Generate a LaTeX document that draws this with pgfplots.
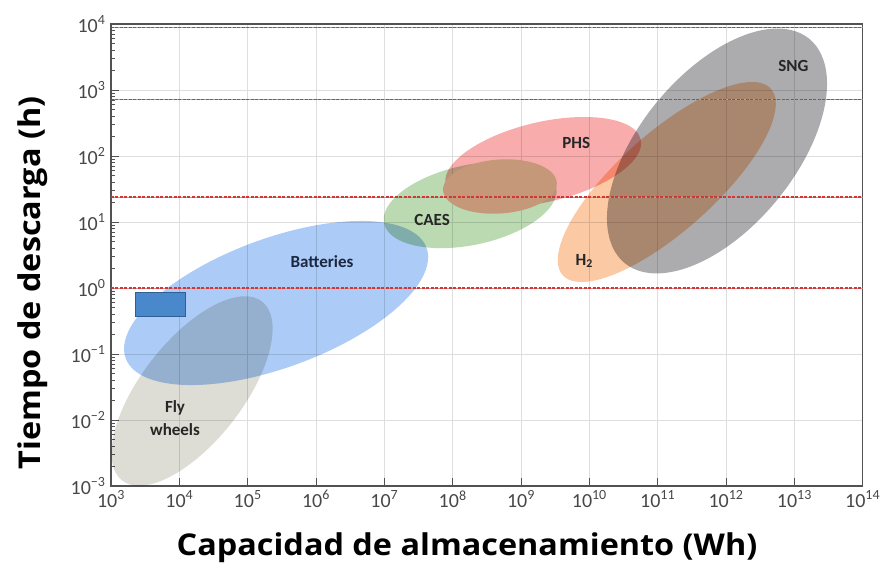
\documentclass[border=0pt]{standalone}
\usepackage{pgfplots}
\pgfplotsset{compat=1.18}
\usepackage{fontspec}
\setmainfont{Carlito}
\newfontfamily\titlefont[FakeStretch=1.08]{Open Sans}
\definecolor{cBat}{RGB}{172,203,246}
\definecolor{cFly}{RGB}{221,221,214}
\definecolor{cCaes}{RGB}{187,218,178}
\definecolor{cPhs}{RGB}{249,172,172}
\definecolor{cBrown}{RGB}{198,152,122}
\definecolor{cHtwo}{RGB}{251,201,163}
\definecolor{cSng}{RGB}{172,172,174}
\definecolor{cRect}{RGB}{74,136,204}
\definecolor{cRectEdge}{RGB}{47,95,149}
\definecolor{cRed}{RGB}{210,55,55}
\definecolor{cRedLine}{RGB}{205,150,150}
\newcommand{\tp}[1]{10\textsuperscript{#1}}
\pgfplotsset{blob/.style={draw=none, smooth cycle, tension=0.632},
  refline/.style={draw=cRed, line width=1.4pt, dash pattern=on 3pt off 1.5pt}}
\begin{document}
\begin{tikzpicture}
\path[use as bounding box] (-111pt,-84pt) rectangle (776pt,486pt);
\begin{axis}[
  scale only axis, width=751.7pt, height=462pt,
  xmin=3, xmax=14, ymin=-3, ymax=4,
  xtick={3,4,5,6,7,8,9,10,11,12,13,14},
  xticklabels={\tp{3},\tp{4},\tp{5},\tp{6},\tp{7},\tp{8},\tp{9},\tp{10},\tp{11},\tp{12},\tp{13},\tp{14}},
  ytick={-3,-2,-1,0,1,2,3,4},
  yticklabels={\tp{−3},\tp{−2},\tp{−1},\tp{0},\tp{1},\tp{2},\tp{3},\tp{4}},
  minor ytick={-2.699,-2.523,-2.398,-2.301,-2.222,-2.155,-2.097,-2.046,
               -1.699,-1.523,-1.398,-1.301,-1.222,-1.155,-1.097,-1.046,
               -0.699,-0.523,-0.398,-0.301,-0.222,-0.155,-0.097,-0.046,
               0.301,0.477,0.602,0.699,0.778,0.845,0.903,0.954,
               1.301,1.477,1.602,1.699,1.778,1.845,1.903,1.954,
               2.301,2.477,2.602,2.699,2.778,2.845,2.903,2.954,
               3.301,3.477,3.602,3.699,3.778,3.845,3.903,3.954},
  xtick pos=left, ytick pos=left,
  tick align=inside,
  major tick length=8pt, minor tick length=4pt,
  grid=major,
  major grid style={draw=black!13, line width=0.7pt},
  axis line style={draw=black!68, line width=1.4pt},
  tick style={draw=black!68, line width=0.9pt},
  ticklabel style={font=\fontsize{20}{24}\selectfont, text=black!72},
  xticklabel style={yshift=-1pt},
  yticklabel style={xshift=-2pt},
]
% Fly wheels
\addplot[fill=cFly, blob, blend mode=multiply] coordinates {
(5.209,-0.205) (4.780,-0.151) (4.191,-0.473) (3.601,-1.088) (3.168,-1.829) (3.007,-2.498)
(3.163,-2.916) (3.592,-2.971) (4.181,-2.648) (4.771,-2.034) (5.204,-1.293) (5.365,-0.624)};
% Batteries
\addplot[fill=cBat, blob, blend mode=multiply] coordinates {
(7.617,0.611) (7.159,0.958) (6.234,0.987) (5.089,0.691) (4.032,0.149) (3.346,-0.494)
(3.215,-1.066) (3.673,-1.412) (4.598,-1.442) (5.742,-1.146) (6.799,-0.604) (7.485,0.039)};
% CAES
\addplot[fill=cCaes, blob, blend mode=multiply] coordinates {
(9.516,1.535) (9.287,1.794) (8.781,1.910) (8.134,1.850) (7.521,1.632) (7.104,1.314)
(6.996,0.980) (7.226,0.721) (7.731,0.606) (8.378,0.665) (8.992,0.883) (9.408,1.201)};
% PHS
\addplot[fill=cPhs, blob, blend mode=multiply] coordinates {
(10.752,2.250) (10.495,2.500) (9.924,2.591) (9.193,2.500) (8.498,2.250) (8.024,1.909)
(7.898,1.568) (8.155,1.318) (8.726,1.227) (9.457,1.318) (10.152,1.568) (10.626,1.909)};
% brown overlap ellipse
\addplot[fill=cBrown, blob] coordinates {
(9.524,1.598) (9.398,1.794) (9.084,1.921) (8.664,1.946) (8.251,1.861) (7.956,1.690)
(7.859,1.478) (7.984,1.282) (8.299,1.154) (8.719,1.130) (9.131,1.215) (9.426,1.386)};
% H2
\addplot[fill=cHtwo, blob, blend mode=multiply] coordinates {
(12.656,3.019) (12.214,3.104) (11.483,2.788) (10.657,2.156) (9.959,1.376) (9.576,0.658)
(9.610,0.194) (10.052,0.108) (10.784,0.424) (11.609,1.057) (12.307,1.836) (12.690,2.555)};
% SNG
\addplot[fill=cSng, blob, blend mode=multiply] coordinates {
(13.219,3.775) (12.600,3.920) (11.785,3.571) (10.992,2.822) (10.434,1.873) (10.260,0.978)
(10.517,0.377) (11.136,0.232) (11.952,0.580) (12.744,1.330) (13.302,2.279) (13.476,3.174)};
% blue rectangle
\addplot[fill=cRect, draw=cRectEdge, line width=0.8pt] coordinates {
(3.356,-0.065) (4.094,-0.065) (4.094,-0.424) (3.356,-0.424)} -- cycle;
% reference lines: 1 h, 1 day, 1 month, 1 year
\addplot[draw=cRedLine, line width=0.6pt] coordinates {(3,3.9425) (14,3.9425)};
\addplot[draw=cRedLine, line width=0.6pt] coordinates {(3,2.8573) (14,2.8573)};
\addplot[draw=cRedLine, line width=0.6pt] coordinates {(3,1.3802) (14,1.3802)};
\addplot[draw=cRedLine, line width=0.6pt] coordinates {(3,0) (14,0)};
\addplot[refline] coordinates {(3,3.9425) (14,3.9425)};
\addplot[refline] coordinates {(3,2.8573) (14,2.8573)};
\addplot[refline] coordinates {(3,1.3802) (14,1.3802)};
\addplot[refline] coordinates {(3,0) (14,0)};
% labels
\node[font=\bfseries\fontsize{17}{18}\selectfont, text=black!85] at (axis cs:12.985,3.364) {SNG};
\node[font=\bfseries\fontsize{17}{18}\selectfont, text=black!85] at (axis cs:9.808,2.197) {PHS};
\node[font=\bfseries\fontsize{17}{18}\selectfont, text=black!85] at (axis cs:7.700,1.030) {CAES};
\node[font=\bfseries\fontsize{17}{18}\selectfont, text=black!85] at (axis cs:9.925,0.409) {H\textsubscript{2}};
\node[font=\bfseries\fontsize{17}{18}\selectfont, text={rgb,255:red,28;green,40;blue,66}] at (axis cs:6.089,0.394) {Batteries};
\node[font=\bfseries\fontsize{17}{23}\selectfont, text=black!85, align=center] at (axis cs:3.937,-1.970) {Fly\\wheels};
\end{axis}
\node[font=\titlefont\bfseries\fontsize{30}{34}\selectfont] at (356pt,-62pt) {Capacidad de almacenamiento (Wh)};
\node[font=\titlefont\bfseries\fontsize{30}{34}\selectfont, rotate=90] at (-78pt,203pt) {Tiempo de descarga (h)};
\end{tikzpicture}
\end{document}
